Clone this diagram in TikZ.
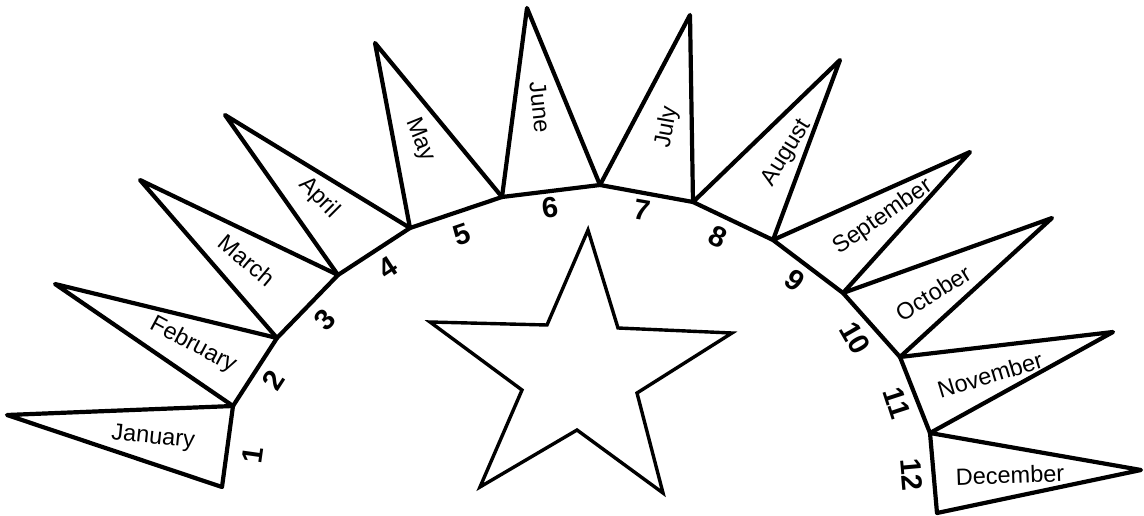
\documentclass[tikz,border=0pt]{standalone}
\usepackage{fontspec}
\setmainfont{Liberation Sans}
\begin{document}
\begin{tikzpicture}[x=1pt,y=-1pt,
    flag/.style={line width=4.2pt,line join=round},
    month/.style={font=\fontsize{23.5}{25}\selectfont,inner sep=0pt},
    num/.style={font=\fontsize{29}{31}\selectfont\bfseries,inner sep=0pt}]
    \useasboundingbox (0,0) rectangle (1144,516);
    % Arc
        \foreach \i/\x/\y in {0/222/487,1/233/406,2/277/338,3/338/275,4/410/228,
            5/502/197,6/600/185,7/693/202,8/773/240,9/843/293,10/900/357,
            11/930/433,12/937/513}
            \coordinate (a\i) at (\x,\y);
    % Tips
        \foreach \i/\x/\y in {1/7/415,2/55/284,3/140/180,4/225/115,5/375/43,
            6/527/8,7/690/15,8/840/60,9/970/152,10/1052/218,11/1113/332,
            12/1141/470}
            \coordinate (t\i) at (\x,\y);
    % Flags
        \foreach \i/\j in {1/0,2/1,3/2,4/3,5/4,6/5,7/6,8/7,9/8,10/9,11/10,12/11}
            \draw[flag] (a\j) -- (t\i) -- (a\i) -- cycle;
    % Months
        \foreach \m/\x/\y/\r in {January/153/438/-6,February/193/345/-28,
            March/247/260/-40,April/319/198/-45,May/420/140/-68,June/540/107/-84,
            July/667/127/80,August/787/153/58,September/883/217/35,
            October/933/293/32,November/990/375/17,December/1010/475/2}
            \node[month,rotate=\r] (m\m) at (\x,\y) {\m};
    % Numbers
        \foreach \n/\x/\y/\r in {1/253/455/82,2/273/380/57,3/325/320/46,
            4/388/268/33,5/462/235/19,6/550/208/7,7/642/210/-10,8/718/237/-25,
            9/795/280/-37,10/855/338/-60,11/897/403/-72,12/912/475/-85}
            \node[num,rotate=\r] (n\n) at (\x,\y) {\n};
    % Star
        \draw[line width=3.4pt,line join=miter] (588,230) -- (618,328) -- (732,333)
            -- (637,393) -- (663,493) -- (577,430) -- (480,487) -- (522,390)
            -- (430,322) -- (547,325) -- cycle;
\end{tikzpicture}
\end{document}
